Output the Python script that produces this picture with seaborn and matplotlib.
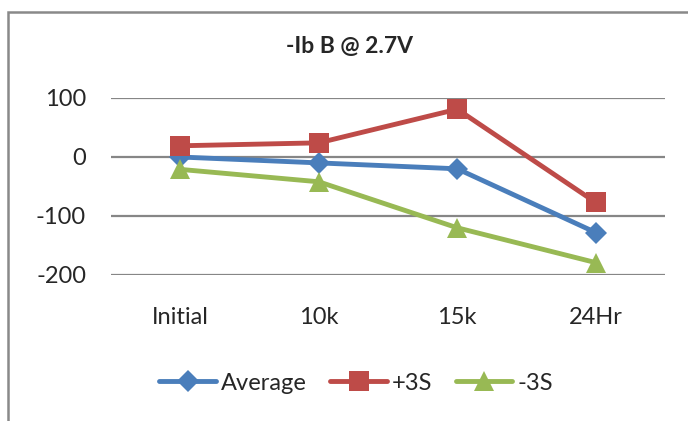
import pandas as pd
import matplotlib
matplotlib.use("Agg")
import matplotlib.pyplot as plt
from matplotlib.patches import Rectangle
import seaborn as sns

# Data
stages = ["Initial", "10k", "15k", "24Hr"]
average = [0, -10, -20, -128]
plus_3s = [19, 24, 81, -77]
minus_3s = [-21, -42, -120, -179]
series_names = ["Average", "+3S", "-3S"]
yticks = [-200, -100, 0, 100]

df = pd.DataFrame({
    "stage": stages * 3,
    "value": average + plus_3s + minus_3s,
    "series": [s for s in series_names for _ in stages],
})

sns.set_style("white")
plt.rcParams["font.family"] = ["Lato", "DejaVu Sans"]
plt.rcParams["axes.unicode_minus"] = False

palette = {"Average": "#4A7EBB", "+3S": "#BE4B48", "-3S": "#98B954"}
markers = {"Average": "D", "+3S": "s", "-3S": "^"}
msize = {"Average": 11, "+3S": 14, "-3S": 14}

fig = plt.figure(figsize=(6.88, 4.21), dpi=100)
ax = fig.add_axes([111 / 688, 1 - 275 / 421, 554 / 688, 177 / 421])

for name in series_names:
    sub = df[df["series"] == name]
    sns.lineplot(data=sub, x="stage", y="value", ax=ax, color=palette[name],
                 marker=markers[name], markersize=msize[name], linewidth=3.5,
                 markeredgewidth=0, label=name, sort=False, clip_on=False,
                 legend=False)

ax.set_xlim(-0.5, 3.5)
ax.set_ylim(-200, 100)
ax.set_yticks(yticks)
ax.yaxis.grid(True, color="#868686", linewidth=1.6)
ax.set_axisbelow(True)
for sp in ax.spines.values():
    sp.set_visible(False)
ax.tick_params(axis="x", length=0, pad=23, labelsize=17)
ax.tick_params(axis="y", length=0, pad=18, labelsize=17)
ax.set_xlabel("")
ax.set_ylabel("")

fig.text(349 / 688, 1 - 47 / 421, "-Ib B @ 2.7V", ha="center", va="center",
         fontsize=16.5, fontweight="bold")

handles, labels = ax.get_legend_handles_labels()
fig.legend(handles, labels, loc="center", bbox_to_anchor=(356 / 688, 1 - 383 / 421),
           ncol=3, frameon=False, fontsize=17, handlelength=2.4,
           columnspacing=1.0, handletextpad=0.2, markerscale=1.0)

# chart area border (cropped at right and bottom)
fig.patches.append(Rectangle((8 / 688, -0.1), 1.0, 1 - 12 / 421 + 0.1,
                             transform=fig.transFigure, fill=False,
                             edgecolor="#898989", linewidth=1.8))

fig.savefig("out.png", dpi=100)
